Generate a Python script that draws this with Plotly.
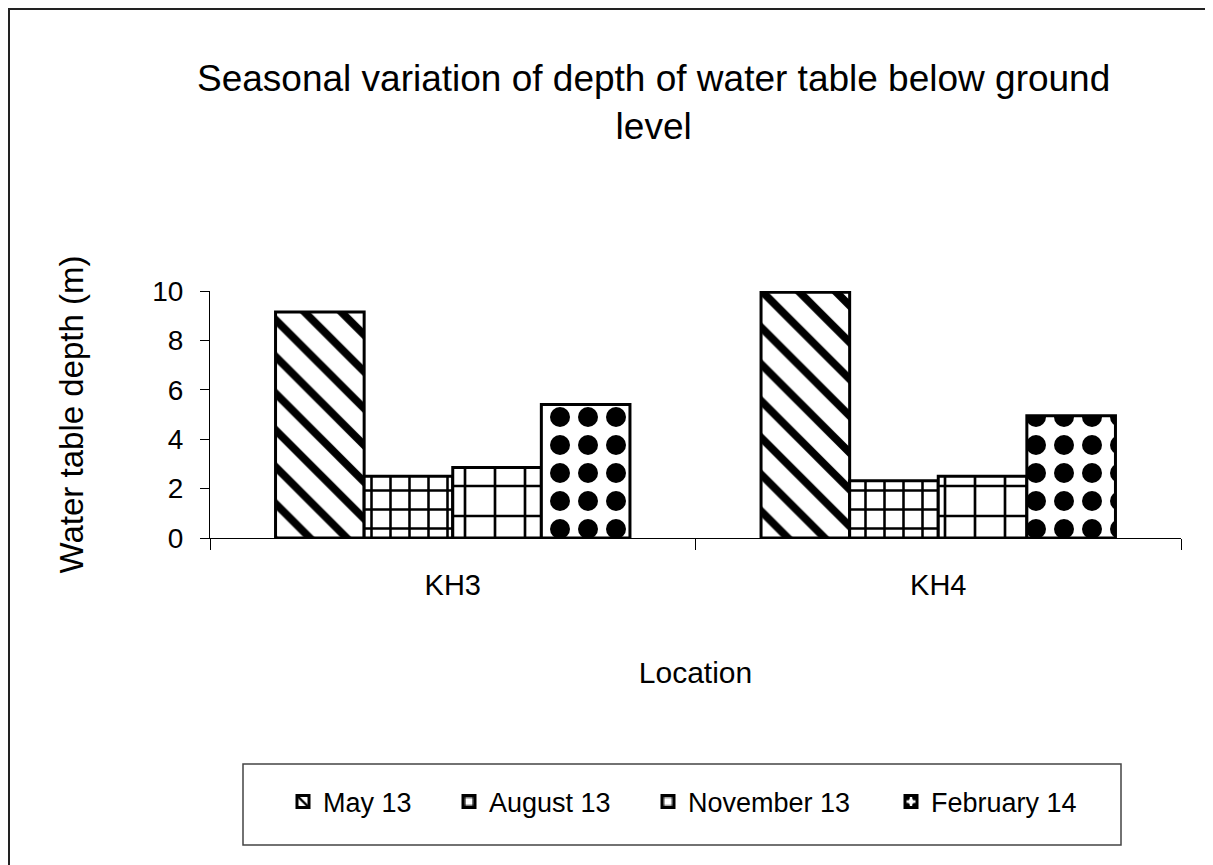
import plotly.graph_objects as go

locations = ["KH3", "KH4"]
series_names = ["May 13", "August 13", "November 13", "February 14"]
may_13 = [9.15, 9.95]
august_13 = [2.5, 2.32]
november_13 = [2.85, 2.5]
february_14 = [5.4, 4.95]
y_ticks = [0, 2, 4, 6, 8, 10]

FONT = "Liberation Sans, Arial, sans-serif"

# The page body adds an 8 px offset; work in screen pixels and convert.
OFF = 8
FIG_W, FIG_H = 1213 - OFF, 865 - OFF
L, R, T, B = 210 - OFF, 1181 - OFF, 291 - OFF, 538 - OFF
W, H = R - L, B - T


def px_x(sx):
    return (sx - OFF - L) / W


def px_y(sy):
    return (B - (sy - OFF)) / H


styles = [
    dict(shape="\\", size=26, solidity=0.3),
    dict(shape="+", size=19, solidity=0.25),
    dict(shape="+", size=30, solidity=0.17),
    dict(shape=".", size=28, solidity=0.4),
]
values = [may_13, august_13, november_13, february_14]
legend_ids = ["legend", "legend2", "legend3", "legend4"]
icon_left = [297, 463, 662, 905]

fig = go.Figure()
for name, vals, st, lg in zip(series_names, values, styles, legend_ids):
    fig.add_trace(go.Bar(
        x=locations, y=vals, name=name, legend=lg,
        marker=dict(color="white", line=dict(color="black", width=3),
                    pattern=dict(shape=st["shape"], size=st["size"], solidity=st["solidity"],
                                 fgcolor="black", bgcolor="white", fgopacity=1,
                                 fillmode="replace")),
    ))

leg_y = px_y(802)
legend_layout = {}
for lg, il in zip(legend_ids, icon_left):
    legend_layout[lg] = dict(
        x=px_x(il - 14), y=leg_y, xanchor="left", yanchor="middle",
        orientation="h", bgcolor="rgba(0,0,0,0)", borderwidth=0,
        font=dict(family=FONT, size=27, color="black"),
    )

fig.update_layout(
    width=FIG_W, height=FIG_H,
    margin=dict(l=L, r=FIG_W - R, t=T, b=FIG_H - B, autoexpand=False),
    paper_bgcolor="white", plot_bgcolor="white",
    barmode="group", bargap=0.27, bargroupgap=0,
    font=dict(family=FONT, color="black"),
    showlegend=True,
    **legend_layout,
    xaxis=dict(
        showline=True, linecolor="black", linewidth=1,
        ticks="outside", tickson="boundaries", ticklen=11, tickcolor="black",
        tickfont=dict(family=FONT, size=29, color="black"),
        ticklabelstandoff=21,
        showgrid=False,
        title=dict(text="Location", font=dict(family=FONT, size=30, color="black"), standoff=62),
    ),
    yaxis=dict(
        range=[0, 10], tickvals=y_ticks,
        showline=True, linecolor="black", linewidth=1,
        ticks="outside", ticklen=9, tickcolor="black",
        tickfont=dict(family=FONT, size=28, color="black"),
        ticklabelstandoff=11,
        showgrid=False, zeroline=False,
        title=dict(text="Water table depth (m)", font=dict(family=FONT, size=33, color="black"), standoff=58),
    ),
    annotations=[dict(
        text="Seasonal variation of depth of water table below ground<br>level",
        xref="paper", yref="paper", x=px_x(653), y=px_y(102),
        xanchor="center", yanchor="middle", showarrow=False,
        font=dict(family=FONT, size=37, color="black"),
    )],
    shapes=[
        dict(type="rect", xref="paper", yref="paper",
             x0=px_x(9), x1=px_x(1260), y0=px_y(920), y1=px_y(9),
             line=dict(color="#222222", width=2), fillcolor="rgba(0,0,0,0)"),
        dict(type="rect", xref="paper", yref="paper",
             x0=px_x(243), x1=px_x(1121), y0=px_y(845), y1=px_y(764),
             line=dict(color="#444444", width=1.5), fillcolor="rgba(0,0,0,0)"),
    ],
)

fig.write_html("out.html")
